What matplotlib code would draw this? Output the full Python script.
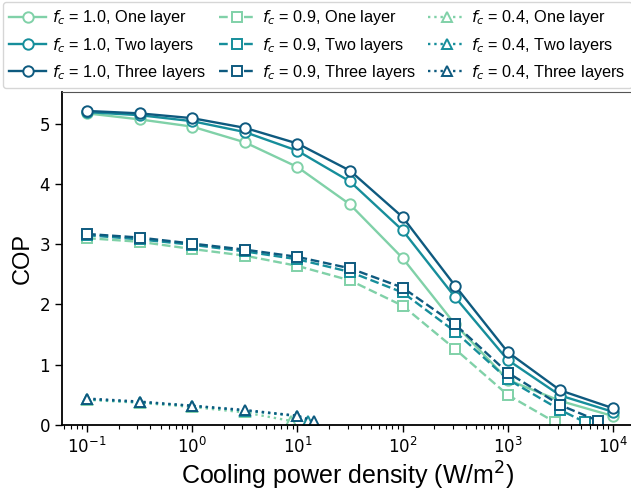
import numpy as np
import matplotlib
matplotlib.use("Agg")
import matplotlib.pyplot as plt

# Data
x_full = [0.1, 0.316, 1, 3.16, 10, 31.6, 100, 316, 1000, 3162, 10000]

cop_f10_one   = [5.17, 5.07, 4.95, 4.69, 4.28, 3.66, 2.77, 1.67, 0.75, 0.40, 0.15]
cop_f10_two   = [5.19, 5.14, 5.04, 4.86, 4.55, 4.04, 3.23, 2.12, 1.08, 0.49, 0.22]
cop_f10_three = [5.21, 5.17, 5.09, 4.93, 4.67, 4.22, 3.45, 2.31, 1.21, 0.575, 0.28]

x_f09_one   = [0.1, 0.316, 1, 3.16, 10, 31.6, 100, 316, 1000, 2800]
cop_f09_one = [3.10, 3.04, 2.92, 2.81, 2.64, 2.40, 1.98, 1.26, 0.50, 0.05]
x_f09_two   = [0.1, 0.316, 1, 3.16, 10, 31.6, 100, 316, 1000, 3162, 5400]
cop_f09_two = [3.15, 3.08, 2.99, 2.88, 2.75, 2.54, 2.20, 1.55, 0.76, 0.25, 0.05]
x_f09_three   = [0.1, 0.316, 1, 3.16, 10, 31.6, 100, 316, 1000, 3162, 7250]
cop_f09_three = [3.17, 3.11, 3.01, 2.91, 2.79, 2.60, 2.28, 1.67, 0.87, 0.33, 0.07]

x_f04_one   = [0.1, 0.316, 1, 3.16, 8.6]
cop_f04_one = [0.42, 0.37, 0.30, 0.21, 0.07]
x_f04_two   = [0.1, 0.316, 1, 3.16, 10, 12.5]
cop_f04_two = [0.43, 0.38, 0.32, 0.24, 0.15, 0.07]
x_f04_three   = [0.1, 0.316, 1, 3.16, 10, 14.3]
cop_f04_three = [0.44, 0.39, 0.32, 0.25, 0.155, 0.07]

layers = ["One layer", "Two layers", "Three layers"]
colors = ["#80d1a8", "#168e9b", "#0e5a7f"]

fig = plt.figure(figsize=(6.31, 4.96), dpi=100)
ax = fig.add_axes([0.098, 0.143, 0.905, 0.671])

lw = 1.7
legend_handles = []
series = [
    ("1.0", "o", "-", 7.5, [(x_full, cop_f10_one), (x_full, cop_f10_two), (x_full, cop_f10_three)]),
    ("0.9", "s", "--", 7.0, [(x_f09_one, cop_f09_one), (x_f09_two, cop_f09_two), (x_f09_three, cop_f09_three)]),
    ("0.4", "^", ":", 7.5, [(x_f04_one, cop_f04_one), (x_f04_two, cop_f04_two), (x_f04_three, cop_f04_three)]),
]
for fc, mk, ls, ms, data in series:
    for (xs, ys), c, lay in zip(data, colors, layers):
        h, = ax.plot(xs, ys, color=c, linestyle=ls, marker=mk, markersize=ms,
                     markerfacecolor="white", markeredgecolor=c, markeredgewidth=1.4,
                     linewidth=lw, label=f"$f_c$ = {fc}, {lay}")
        legend_handles.append(h)

ax.set_xscale("log")
ax.set_xlim(10**-1.24, 10**4.19)
ax.set_ylim(0, 5.52)
ax.set_yticks([0, 1, 2, 3, 4, 5])
ax.tick_params(axis="both", which="major", labelsize=12, length=5, width=1)
ax.tick_params(axis="both", which="minor", length=3, width=0.8)
for s in ["left", "bottom"]:
    ax.spines[s].set_linewidth(1.3)
ax.spines["top"].set_color("#555555")
ax.spines["top"].set_linewidth(0.8)

ax.set_xlabel("Cooling power density (W/m$^2$)", fontsize=18, family="Liberation Sans", labelpad=2)
ax.set_ylabel("COP", fontsize=17, family="Liberation Sans", labelpad=4)

leg = fig.legend(handles=legend_handles, ncol=3, loc="upper left",
                 bbox_to_anchor=(0.004, 0.996), prop={"family": "Liberation Sans", "size": 11.7},
                 frameon=True, fancybox=True, borderaxespad=0, columnspacing=0.75,
                 handletextpad=0.35, labelspacing=0.5, handlelength=2.3, borderpad=0.4)
leg.get_frame().set_edgecolor("#cccccc")
leg.get_frame().set_linewidth(1.0)

fig.savefig("out.png", dpi=100)
